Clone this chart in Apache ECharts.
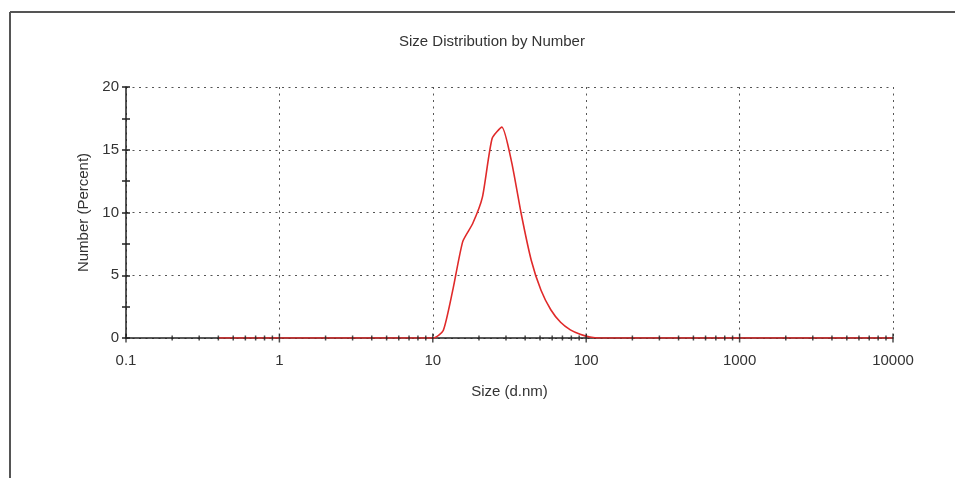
<!DOCTYPE html>
<html>
<head>
<meta charset="utf-8">
<title>Size Distribution by Number</title>
<script src="https://cdn.jsdelivr.net/npm/echarts@6/dist/echarts.min.js"></script>
<style>
    html, body { margin: 0; padding: 0; background: #fff; }
    #chart { width: 955px; height: 478px; }
</style>
</head>
<body>
<div id="chart"></div>
<script>
// size bins (d.nm)
var sizes = [0.4, 0.4632, 0.5365, 0.6213, 0.7195, 0.8332, 0.9649, 1.117, 1.294, 1.499,
    1.736, 2.01, 2.328, 2.696, 3.122, 3.615, 4.187, 4.849, 5.615, 6.503,
    7.531, 8.721, 10.1, 11.7, 13.54, 15.69, 18.17, 21.04, 24.36, 28.21,
    32.67, 37.84, 43.82, 50.75, 58.77, 68.06, 78.82, 91.28, 105.7, 122.4,
    141.8, 164.2, 190.1, 220.2, 255.0, 295.3, 342.0, 396.1, 458.7, 531.2,
    615.1, 712.4, 825.0, 955.4, 1106, 1281, 1484, 1718, 1990, 2305,
    2669, 3091, 3580, 4145, 4801, 5560, 6439, 7456, 8635, 10000];
// number (percent)
var numbers = [0, 0, 0, 0, 0, 0, 0, 0, 0, 0,
    0, 0, 0, 0, 0, 0, 0, 0, 0, 0,
    0, 0, 0, 0.6, 3.9, 7.7, 9.1, 11.2, 15.9, 16.8,
    14.0, 9.8, 6.2, 3.8, 2.25, 1.25, 0.65, 0.3, 0.08, 0,
    0, 0, 0, 0, 0, 0, 0, 0, 0, 0,
    0, 0, 0, 0, 0, 0, 0, 0, 0, 0,
    0, 0, 0, 0, 0, 0, 0, 0, 0, 0];
// x axis tick marks
var xDecades = [0.1, 1, 10, 100, 1000, 10000];
var xMinorSteps = [2, 3, 4, 5, 6, 7, 8, 9];

var FONT = '"Liberation Sans", Arial, sans-serif';

var lineData = [];
for (var i = 0; i < sizes.length; i++) {
    lineData.push([sizes[i], numbers[i]]);
}
var majorTicks = xDecades.map(function (d) { return [d, 0]; });
var minorTicks = [];
xDecades.slice(0, -1).forEach(function (d) {
    xMinorSteps.forEach(function (m) { minorTicks.push([d * m, 0]); });
});

var gridLine = { show: true, lineStyle: { color: '#555', width: 1, type: [2, 4.5] } };

var option = {
    animation: false,
    backgroundColor: '#fff',
    title: {
        text: 'Size Distribution by Number',
        left: 394, top: 29,
        textStyle: { fontFamily: FONT, fontSize: 15, fontWeight: 'normal', color: '#333' }
    },
    grid: { left: 126, right: 62, top: 87, bottom: 140 },
    xAxis: {
        type: 'log',
        logBase: 10,
        min: 0.1,
        max: 10000,
        name: 'Size (d.nm)',
        nameLocation: 'middle',
        nameGap: 46,
        nameTextStyle: { fontFamily: FONT, fontSize: 15, color: '#333' },
        axisLine: { lineStyle: { color: '#222', width: 1.5 } },
        axisTick: { show: false },
        axisLabel: {
            fontFamily: FONT, fontSize: 15, color: '#333', margin: 15,
            formatter: function (v) { return String(v); }
        },
        splitLine: gridLine
    },
    yAxis: [{
        type: 'value',
        min: 0,
        max: 20,
        interval: 5,
        name: 'Number (Percent)',
        nameLocation: 'middle',
        nameGap: 31,
        nameTextStyle: { fontFamily: FONT, fontSize: 15, color: '#333' },
        axisLine: { show: true, lineStyle: { color: '#222', width: 1.5 } },
        axisTick: { show: true, length: 4, lineStyle: { color: '#222', width: 1.5 } },
        minorTick: { show: true, splitNumber: 2, length: 4, lineStyle: { color: '#222', width: 1.5 } },
        axisLabel: { fontFamily: FONT, fontSize: 15, color: '#333', margin: 7 },
        splitLine: gridLine
    }, {
        // inner half of the crossing ticks
        type: 'value',
        min: 0,
        max: 20,
        interval: 5,
        position: 'left',
        axisLine: { show: false },
        axisTick: { show: true, inside: true, length: 4, lineStyle: { color: '#222', width: 1.5 } },
        minorTick: { show: true, splitNumber: 2, length: 4, lineStyle: { color: '#222', width: 1.5 } },
        axisLabel: { show: false },
        splitLine: { show: false }
    }],
    series: [
        {
            name: 'Number',
            type: 'line',
            data: lineData,
            showSymbol: false,
            smooth: 0.2,
            lineStyle: { color: '#e02a2a', width: 1.6 },
            z: 3
        },
        {
            name: 'minor ticks',
            type: 'scatter',
            data: minorTicks,
            symbol: 'rect',
            symbolSize: [1.5, 5],
            itemStyle: { color: '#222' },
            silent: true,
            z: 4
        },
        {
            name: 'major ticks',
            type: 'scatter',
            data: majorTicks,
            symbol: 'rect',
            symbolSize: [1.5, 9],
            itemStyle: { color: '#222' },
            silent: true,
            z: 4
        }
    ],
    graphic: [
        { type: 'line', shape: { x1: 10, y1: 12, x2: 955, y2: 12 }, style: { stroke: '#555', lineWidth: 2 } },
        { type: 'line', shape: { x1: 10, y1: 12, x2: 10, y2: 478 }, style: { stroke: '#555', lineWidth: 2 } }
    ]
};

var chart = echarts.init(document.getElementById('chart'));
chart.setOption(option);
</script>
</body>
</html>
